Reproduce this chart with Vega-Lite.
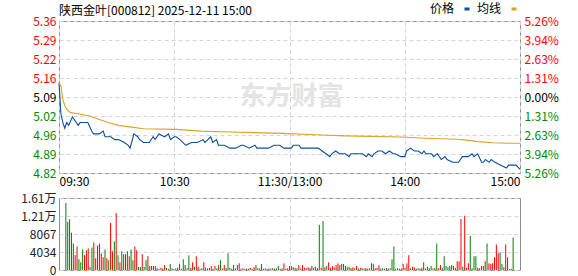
{
  "$schema": "https://vega.github.io/schema/vega-lite/v6.json",
  "background": "white",
  "padding": {"left": 20, "top": 2, "right": 0, "bottom": 0},
  "title": {"text": "陕西金叶[000812] 2025-12-11 15:00", "anchor": "start", "frame": "group", "fontSize": 12, "fontWeight": "normal", "font": "Noto Sans CJK SC", "color": "#000000", "offset": -15},
  "config": {
    "view": {"stroke": "#8c8c8c", "strokeWidth": 1},
    "font": "Noto Sans CJK SC",
    "axis": {"labelFont": "Noto Sans CJK SC", "labelFontSize": 12, "ticks": false, "domain": false, "gridColor": "#d4d4d4", "gridDash": [4, 3], "labelPadding": 3, "title": null},
    "legend": {"orient": "none", "legendX": 402, "legendY": -18, "direction": "horizontal", "title": null, "labelFontSize": 12, "labelFont": "Noto Sans CJK SC", "symbolType": "stroke", "symbolSize": 25, "symbolStrokeWidth": 3, "labelAlign": "right", "labelOffset": -19, "columnPadding": 0, "padding": 0}
  },
  "datasets": {
    "line": [
      {"m": 0, "s": "价格", "v": 5.14}, {"m": 1, "s": "价格", "v": 5.03}, {"m": 2, "s": "价格", "v": 5.0}, {"m": 3, "s": "价格", "v": 4.98}, {"m": 4, "s": "价格", "v": 5.0}, {"m": 5, "s": "价格", "v": 4.99}, {"m": 7, "s": "价格", "v": 5.02}, {"m": 9, "s": "价格", "v": 5.0}, {"m": 10, "s": "价格", "v": 4.99}, {"m": 11, "s": "价格", "v": 5.0}, {"m": 15, "s": "价格", "v": 5.0}, {"m": 17, "s": "价格", "v": 4.97}, {"m": 18, "s": "价格", "v": 4.96}, {"m": 21, "s": "价格", "v": 4.96}, {"m": 23, "s": "价格", "v": 4.97}, {"m": 24, "s": "价格", "v": 4.95}, {"m": 27, "s": "价格", "v": 4.95}, {"m": 29, "s": "价格", "v": 4.94}, {"m": 31, "s": "价格", "v": 4.94}, {"m": 34, "s": "价格", "v": 4.93}, {"m": 36, "s": "价格", "v": 4.92}, {"m": 37, "s": "价格", "v": 4.91}, {"m": 39, "s": "价格", "v": 4.96}, {"m": 41, "s": "价格", "v": 4.95}, {"m": 42, "s": "价格", "v": 4.94}, {"m": 44, "s": "价格", "v": 4.93}, {"m": 47, "s": "价格", "v": 4.93}, {"m": 49, "s": "价格", "v": 4.95}, {"m": 50, "s": "价格", "v": 4.94}, {"m": 52, "s": "价格", "v": 4.96}, {"m": 55, "s": "价格", "v": 4.95}, {"m": 57, "s": "价格", "v": 4.96}, {"m": 58, "s": "价格", "v": 4.94}, {"m": 60, "s": "价格", "v": 4.95}, {"m": 61, "s": "价格", "v": 4.95}, {"m": 63, "s": "价格", "v": 4.94}, {"m": 66, "s": "价格", "v": 4.92}, {"m": 69, "s": "价格", "v": 4.93}, {"m": 72, "s": "价格", "v": 4.93}, {"m": 75, "s": "价格", "v": 4.94}, {"m": 76, "s": "价格", "v": 4.93}, {"m": 79, "s": "价格", "v": 4.95}, {"m": 80, "s": "价格", "v": 4.93}, {"m": 82, "s": "价格", "v": 4.94}, {"m": 83, "s": "价格", "v": 4.92}, {"m": 86, "s": "价格", "v": 4.92}, {"m": 89, "s": "价格", "v": 4.91}, {"m": 92, "s": "价格", "v": 4.91}, {"m": 95, "s": "价格", "v": 4.92}, {"m": 96, "s": "价格", "v": 4.92}, {"m": 99, "s": "价格", "v": 4.91}, {"m": 102, "s": "价格", "v": 4.92}, {"m": 103, "s": "价格", "v": 4.91}, {"m": 109, "s": "价格", "v": 4.91}, {"m": 112, "s": "价格", "v": 4.92}, {"m": 115, "s": "价格", "v": 4.92}, {"m": 117, "s": "价格", "v": 4.91}, {"m": 121, "s": "价格", "v": 4.91}, {"m": 122, "s": "价格", "v": 4.92}, {"m": 125, "s": "价格", "v": 4.92}, {"m": 126, "s": "价格", "v": 4.91}, {"m": 135, "s": "价格", "v": 4.91}, {"m": 137, "s": "价格", "v": 4.9}, {"m": 139, "s": "价格", "v": 4.89}, {"m": 141, "s": "价格", "v": 4.88}, {"m": 142, "s": "价格", "v": 4.89}, {"m": 144, "s": "价格", "v": 4.9}, {"m": 146, "s": "价格", "v": 4.89}, {"m": 149, "s": "价格", "v": 4.89}, {"m": 151, "s": "价格", "v": 4.88}, {"m": 152, "s": "价格", "v": 4.89}, {"m": 158, "s": "价格", "v": 4.89}, {"m": 160, "s": "价格", "v": 4.88}, {"m": 161, "s": "价格", "v": 4.89}, {"m": 163, "s": "价格", "v": 4.88}, {"m": 164, "s": "价格", "v": 4.89}, {"m": 166, "s": "价格", "v": 4.9}, {"m": 168, "s": "价格", "v": 4.9}, {"m": 170, "s": "价格", "v": 4.89}, {"m": 172, "s": "价格", "v": 4.9}, {"m": 174, "s": "价格", "v": 4.89}, {"m": 175, "s": "价格", "v": 4.89}, {"m": 178, "s": "价格", "v": 4.88}, {"m": 180, "s": "价格", "v": 4.88}, {"m": 181, "s": "价格", "v": 4.9}, {"m": 183, "s": "价格", "v": 4.91}, {"m": 185, "s": "价格", "v": 4.9}, {"m": 187, "s": "价格", "v": 4.9}, {"m": 189, "s": "价格", "v": 4.89}, {"m": 190, "s": "价格", "v": 4.9}, {"m": 191, "s": "价格", "v": 4.89}, {"m": 194, "s": "价格", "v": 4.89}, {"m": 195, "s": "价格", "v": 4.88}, {"m": 197, "s": "价格", "v": 4.89}, {"m": 199, "s": "价格", "v": 4.87}, {"m": 201, "s": "价格", "v": 4.88}, {"m": 202, "s": "价格", "v": 4.87}, {"m": 205, "s": "价格", "v": 4.86}, {"m": 208, "s": "价格", "v": 4.86}, {"m": 210, "s": "价格", "v": 4.88}, {"m": 213, "s": "价格", "v": 4.88}, {"m": 215, "s": "价格", "v": 4.89}, {"m": 216, "s": "价格", "v": 4.88}, {"m": 218, "s": "价格", "v": 4.89}, {"m": 220, "s": "价格", "v": 4.86}, {"m": 221, "s": "价格", "v": 4.86}, {"m": 222, "s": "价格", "v": 4.87}, {"m": 224, "s": "价格", "v": 4.86}, {"m": 225, "s": "价格", "v": 4.87}, {"m": 227, "s": "价格", "v": 4.86}, {"m": 230, "s": "价格", "v": 4.85}, {"m": 233, "s": "价格", "v": 4.84}, {"m": 234, "s": "价格", "v": 4.85}, {"m": 238, "s": "价格", "v": 4.85}, {"m": 240, "s": "价格", "v": 4.835},
      {"m": 0, "s": "均线", "v": 5.14}, {"m": 1, "s": "均线", "v": 5.129}, {"m": 2, "s": "均线", "v": 5.082}, {"m": 3, "s": "均线", "v": 5.06}, {"m": 4, "s": "均线", "v": 5.047}, {"m": 6, "s": "均线", "v": 5.035}, {"m": 10, "s": "均线", "v": 5.031}, {"m": 16, "s": "均线", "v": 5.023}, {"m": 21, "s": "均线", "v": 5.011}, {"m": 26, "s": "均线", "v": 4.999}, {"m": 31, "s": "均线", "v": 4.99}, {"m": 38, "s": "均线", "v": 4.984}, {"m": 44, "s": "均线", "v": 4.978}, {"m": 61, "s": "均线", "v": 4.976}, {"m": 74, "s": "均线", "v": 4.97}, {"m": 89, "s": "均线", "v": 4.967}, {"m": 116, "s": "均线", "v": 4.962}, {"m": 137, "s": "均线", "v": 4.956}, {"m": 149, "s": "均线", "v": 4.953}, {"m": 178, "s": "均线", "v": 4.949}, {"m": 191, "s": "均线", "v": 4.945}, {"m": 207, "s": "均线", "v": 4.941}, {"m": 212, "s": "均线", "v": 4.938}, {"m": 218, "s": "均线", "v": 4.933}, {"m": 226, "s": "均线", "v": 4.929}, {"m": 234, "s": "均线", "v": 4.927}, {"m": 240, "s": "均线", "v": 4.927}
    ],
    "vol": [
      {"m": 0, "v": 15030, "d": "dn"}, {"m": 1, "v": 10780, "d": "dn"}, {"m": 2, "v": 11360, "d": "dn"}, {"m": 3, "v": 8360, "d": "up"}, {"m": 4, "v": 5940, "d": "dn"}, {"m": 5, "v": 3300, "d": "up"}, {"m": 6, "v": 5280, "d": "up"}, {"m": 7, "v": 2420, "d": "dn"}, {"m": 8, "v": 1760, "d": "dn"}, {"m": 9, "v": 4620, "d": "dn"}, {"m": 10, "v": 3300, "d": "up"}, {"m": 11, "v": 4400, "d": "up"}, {"m": 12, "v": 4840, "d": "up"}, {"m": 13, "v": 700, "d": "dn"}, {"m": 14, "v": 5060, "d": "dn"}, {"m": 15, "v": 6160, "d": "up"}, {"m": 16, "v": 2640, "d": "up"}, {"m": 17, "v": 5500, "d": "dn"}, {"m": 18, "v": 5940, "d": "up"}, {"m": 19, "v": 3740, "d": "up"}, {"m": 20, "v": 2860, "d": "up"}, {"m": 21, "v": 4620, "d": "dn"}, {"m": 22, "v": 2640, "d": "up"}, {"m": 23, "v": 2200, "d": "dn"}, {"m": 24, "v": 10560, "d": "up"}, {"m": 25, "v": 4180, "d": "up"}, {"m": 26, "v": 6380, "d": "dn"}, {"m": 27, "v": 12760, "d": "up"}, {"m": 28, "v": 3300, "d": "dn"}, {"m": 29, "v": 1760, "d": "up"}, {"m": 30, "v": 4180, "d": "dn"}, {"m": 31, "v": 3520, "d": "up"}, {"m": 32, "v": 3520, "d": "up"}, {"m": 33, "v": 4180, "d": "dn"}, {"m": 34, "v": 3080, "d": "up"}, {"m": 35, "v": 4620, "d": "dn"}, {"m": 36, "v": 2200, "d": "dn"}, {"m": 37, "v": 5280, "d": "up"}, {"m": 38, "v": 4400, "d": "up"}, {"m": 39, "v": 660, "d": "dn"}, {"m": 40, "v": 660, "d": "dn"}, {"m": 41, "v": 3520, "d": "up"}, {"m": 42, "v": 660, "d": "dn"}, {"m": 43, "v": 2200, "d": "dn"}, {"m": 44, "v": 3080, "d": "up"}, {"m": 45, "v": 880, "d": "up"}, {"m": 46, "v": 880, "d": "up"}, {"m": 47, "v": 880, "d": "dn"}, {"m": 48, "v": 880, "d": "dn"},
      {"m": 49, "v": 400, "d": "up"}, {"m": 50, "v": 300, "d": "dn"}, {"m": 51, "v": 500, "d": "up"}, {"m": 52, "v": 350, "d": "up"}, {"m": 53, "v": 1100, "d": "up"}, {"m": 54, "v": 450, "d": "dn"}, {"m": 55, "v": 300, "d": "up"}, {"m": 56, "v": 1320, "d": "dn"}, {"m": 57, "v": 400, "d": "dn"}, {"m": 58, "v": 250, "d": "up"}, {"m": 59, "v": 350, "d": "dn"}, {"m": 60, "v": 500, "d": "up"}, {"m": 61, "v": 1320, "d": "dn"}, {"m": 62, "v": 300, "d": "dn"}, {"m": 63, "v": 2420, "d": "dn"}, {"m": 64, "v": 1100, "d": "dn"}, {"m": 65, "v": 400, "d": "up"}, {"m": 66, "v": 3300, "d": "dn"}, {"m": 67, "v": 450, "d": "up"}, {"m": 68, "v": 1760, "d": "up"}, {"m": 69, "v": 733, "d": "dn"}, {"m": 70, "v": 3080, "d": "up"}, {"m": 71, "v": 733, "d": "up"}, {"m": 72, "v": 300, "d": "dn"}, {"m": 73, "v": 400, "d": "up"}, {"m": 74, "v": 1760, "d": "up"}, {"m": 75, "v": 586, "d": "dn"}, {"m": 76, "v": 350, "d": "up"}, {"m": 77, "v": 450, "d": "dn"}, {"m": 78, "v": 880, "d": "up"}, {"m": 79, "v": 300, "d": "up"}, {"m": 80, "v": 880, "d": "up"}, {"m": 81, "v": 400, "d": "dn"}, {"m": 82, "v": 1100, "d": "up"}, {"m": 83, "v": 2200, "d": "dn"}, {"m": 84, "v": 350, "d": "up"}, {"m": 85, "v": 1100, "d": "up"}, {"m": 86, "v": 450, "d": "dn"}, {"m": 87, "v": 3740, "d": "dn"}, {"m": 88, "v": 513, "d": "dn"}, {"m": 89, "v": 300, "d": "up"}, {"m": 90, "v": 1100, "d": "up"}, {"m": 91, "v": 350, "d": "dn"}, {"m": 92, "v": 1100, "d": "up"}, {"m": 93, "v": 1540, "d": "up"}, {"m": 94, "v": 300, "d": "dn"}, {"m": 95, "v": 400, "d": "up"}, {"m": 96, "v": 250, "d": "up"}, {"m": 97, "v": 350, "d": "dn"}, {"m": 98, "v": 300, "d": "up"}, {"m": 99, "v": 450, "d": "up"}, {"m": 100, "v": 300, "d": "dn"}, {"m": 101, "v": 600, "d": "up"}, {"m": 102, "v": 1100, "d": "dn"}, {"m": 103, "v": 400, "d": "up"}, {"m": 104, "v": 350, "d": "up"}, {"m": 105, "v": 1320, "d": "up"}, {"m": 106, "v": 300, "d": "dn"}, {"m": 107, "v": 400, "d": "up"}, {"m": 108, "v": 250, "d": "dn"}, {"m": 109, "v": 350, "d": "up"}, {"m": 110, "v": 300, "d": "up"}, {"m": 111, "v": 450, "d": "dn"}, {"m": 112, "v": 300, "d": "up"}, {"m": 113, "v": 400, "d": "dn"}, {"m": 114, "v": 880, "d": "dn"}, {"m": 115, "v": 300, "d": "up"}, {"m": 116, "v": 350, "d": "up"}, {"m": 117, "v": 1540, "d": "up"}, {"m": 118, "v": 300, "d": "dn"}, {"m": 119, "v": 400, "d": "up"}, {"m": 120, "v": 880, "d": "up"}, {"m": 121, "v": 880, "d": "up"}, {"m": 122, "v": 600, "d": "up"}, {"m": 123, "v": 500, "d": "up"}, {"m": 124, "v": 400, "d": "dn"}, {"m": 125, "v": 1100, "d": "up"}, {"m": 126, "v": 350, "d": "up"}, {"m": 127, "v": 1100, "d": "up"}, {"m": 128, "v": 500, "d": "up"}, {"m": 129, "v": 400, "d": "up"}, {"m": 130, "v": 600, "d": "up"}, {"m": 131, "v": 450, "d": "dn"}, {"m": 132, "v": 880, "d": "up"}, {"m": 133, "v": 500, "d": "up"}, {"m": 134, "v": 733, "d": "dn"}, {"m": 135, "v": 400, "d": "up"}, {"m": 136, "v": 10120, "d": "dn"}, {"m": 137, "v": 500, "d": "up"}, {"m": 138, "v": 11000, "d": "dn"}, {"m": 139, "v": 600, "d": "up"}, {"m": 140, "v": 880, "d": "dn"}, {"m": 141, "v": 1760, "d": "up"}, {"m": 142, "v": 500, "d": "up"}, {"m": 143, "v": 880, "d": "up"}, {"m": 144, "v": 600, "d": "up"}, {"m": 145, "v": 1100, "d": "up"}, {"m": 146, "v": 1540, "d": "up"}, {"m": 147, "v": 1100, "d": "up"}, {"m": 148, "v": 1320, "d": "dn"}, {"m": 149, "v": 1320, "d": "dn"}, {"m": 150, "v": 880, "d": "up"}, {"m": 151, "v": 600, "d": "up"}, {"m": 152, "v": 733, "d": "up"}, {"m": 153, "v": 450, "d": "dn"}, {"m": 154, "v": 600, "d": "up"}, {"m": 155, "v": 400, "d": "up"}, {"m": 156, "v": 880, "d": "up"}, {"m": 157, "v": 350, "d": "dn"}, {"m": 158, "v": 500, "d": "up"}, {"m": 159, "v": 400, "d": "up"}, {"m": 160, "v": 350, "d": "dn"}, {"m": 161, "v": 450, "d": "up"}, {"m": 162, "v": 300, "d": "up"}, {"m": 163, "v": 400, "d": "dn"}, {"m": 164, "v": 1540, "d": "up"}, {"m": 165, "v": 1320, "d": "dn"}, {"m": 166, "v": 400, "d": "up"}, {"m": 167, "v": 500, "d": "up"}, {"m": 168, "v": 1100, "d": "up"}, {"m": 169, "v": 350, "d": "dn"}, {"m": 170, "v": 400, "d": "dn"}, {"m": 171, "v": 300, "d": "up"}, {"m": 172, "v": 450, "d": "dn"}, {"m": 173, "v": 350, "d": "dn"}, {"m": 174, "v": 400, "d": "dn"}, {"m": 175, "v": 2420, "d": "dn"}, {"m": 176, "v": 5280, "d": "dn"}, {"m": 177, "v": 300, "d": "dn"}, {"m": 178, "v": 400, "d": "dn"}, {"m": 179, "v": 300, "d": "up"}, {"m": 180, "v": 350, "d": "dn"}, {"m": 181, "v": 1320, "d": "up"}, {"m": 182, "v": 500, "d": "up"}, {"m": 183, "v": 1540, "d": "up"}, {"m": 184, "v": 3300, "d": "up"}, {"m": 185, "v": 400, "d": "dn"}, {"m": 186, "v": 733, "d": "up"}, {"m": 187, "v": 586, "d": "up"}, {"m": 188, "v": 300, "d": "dn"}, {"m": 189, "v": 400, "d": "dn"}, {"m": 190, "v": 350, "d": "dn"}, {"m": 191, "v": 500, "d": "up"}, {"m": 192, "v": 1760, "d": "dn"}, {"m": 193, "v": 350, "d": "dn"}, {"m": 194, "v": 733, "d": "up"}, {"m": 195, "v": 400, "d": "dn"}, {"m": 196, "v": 880, "d": "dn"}, {"m": 197, "v": 350, "d": "up"}, {"m": 198, "v": 500, "d": "dn"}, {"m": 199, "v": 5940, "d": "dn"}, {"m": 200, "v": 400, "d": "up"}, {"m": 201, "v": 1100, "d": "up"}, {"m": 202, "v": 500, "d": "dn"}, {"m": 203, "v": 3080, "d": "dn"}, {"m": 204, "v": 880, "d": "dn"}, {"m": 205, "v": 600, "d": "dn"}, {"m": 206, "v": 880, "d": "dn"}, {"m": 207, "v": 1100, "d": "up"}, {"m": 208, "v": 880, "d": "up"}, {"m": 209, "v": 500, "d": "dn"}, {"m": 210, "v": 1980, "d": "up"}, {"m": 211, "v": 1980, "d": "up"}, {"m": 212, "v": 11440, "d": "up"}, {"m": 213, "v": 733, "d": "dn"}, {"m": 214, "v": 12170, "d": "up"}, {"m": 215, "v": 500, "d": "up"}, {"m": 216, "v": 1540, "d": "up"}, {"m": 217, "v": 7700, "d": "dn"}, {"m": 218, "v": 366, "d": "dn"}, {"m": 219, "v": 3080, "d": "dn"}, {"m": 220, "v": 3080, "d": "dn"}, {"m": 221, "v": 500, "d": "up"}, {"m": 222, "v": 366, "d": "dn"}, {"m": 223, "v": 880, "d": "up"}, {"m": 224, "v": 880, "d": "up"}, {"m": 225, "v": 1980, "d": "up"}, {"m": 226, "v": 5940, "d": "dn"}, {"m": 227, "v": 1540, "d": "up"}, {"m": 228, "v": 1320, "d": "up"}, {"m": 229, "v": 1540, "d": "up"}, {"m": 230, "v": 2860, "d": "up"}, {"m": 231, "v": 5720, "d": "up"}, {"m": 232, "v": 3740, "d": "up"}, {"m": 233, "v": 3960, "d": "dn"}, {"m": 234, "v": 1320, "d": "dn"}, {"m": 235, "v": 600, "d": "up"}, {"m": 236, "v": 5720, "d": "up"}, {"m": 237, "v": 2860, "d": "up"}, {"m": 238, "v": 220, "d": "up"}, {"m": 239, "v": 300, "d": "dn"}, {"m": 240, "v": 7260, "d": "dn"}
    ]
  },
  "vconcat": [
    {
      "width": 461,
      "height": 152,
      "layer": [
        {
          "data": {"values": [{"t": "东方财富"}]},
          "mark": {"type": "text", "fontSize": 26, "fontWeight": "bold", "color": "#e4e4e4", "font": "Noto Sans CJK SC"},
          "encoding": {
            "x": {"datum": 121, "type": "quantitative", "scale": {"domain": [0, 240], "nice": false, "zero": false}},
            "y": {"datum": 5.09, "type": "quantitative", "axis": null},
            "text": {"field": "t"}
          }
        },
        {
          "data": {"name": "line"},
          "mark": {"type": "line", "strokeWidth": 1.1, "interpolate": "linear"},
          "encoding": {
            "x": {"field": "m", "type": "quantitative", "scale": {"domain": [0, 240], "nice": false, "zero": false},
              "axis": {"values": [0, 60, 120, 180, 240], "labelFlush": true, "grid": true, "labelColor": "#000000",
                "labelExpr": "datum.value == 0 ? '09:30' : datum.value == 60 ? '10:30' : datum.value == 120 ? '11:30/13:00' : datum.value == 180 ? '14:00' : '15:00'"}},
            "y": {"field": "v", "type": "quantitative", "scale": {"domain": [4.8224, 5.3576], "nice": false, "zero": false},
              "axis": {"orient": "left", "values": [4.8224, 4.8893, 4.9562, 5.0231, 5.09, 5.1569, 5.2238, 5.2907, 5.3576], "format": ".2f", "grid": true,
                "labelColor": {"condition": [{"test": "datum.value > 5.1", "value": "#ff0000"}, {"test": "datum.value < 5.08", "value": "#008a00"}], "value": "#000000"}}},
            "color": {"field": "s", "type": "nominal", "scale": {"domain": ["价格", "均线"], "range": ["#0a4f9e", "#dca223"]}},
            "order": {"field": "m", "type": "quantitative"}
          }
        },
        {
          "data": {"name": "line"},
          "mark": {"type": "line", "opacity": 0},
          "encoding": {
            "x": {"field": "m", "type": "quantitative"},
            "y": {"field": "v", "type": "quantitative",
              "axis": {"orient": "right", "values": [4.8224, 4.8893, 4.9562, 5.0231, 5.09, 5.1569, 5.2238, 5.2907, 5.3576], "grid": false, "labelPadding": 4,
                "labelExpr": "format(abs(datum.value - 5.09) / 5.09 * 100, '.2f') + '%'",
                "labelColor": {"condition": [{"test": "datum.value > 5.1", "value": "#ff0000"}, {"test": "datum.value < 5.08", "value": "#008a00"}], "value": "#000000"}}},
            "detail": {"field": "s"}
          }
        }
      ],
      "resolve": {"axis": {"y": "independent"}}
    },
    {
      "width": 461,
      "height": 72,
      "data": {"name": "vol"},
      "mark": {"type": "bar", "size": 1},
      "encoding": {
        "x": {"field": "m", "type": "quantitative", "scale": {"domain": [-1, 241], "nice": false, "zero": false},
          "axis": {"values": [60.5, 120.5, 180.5], "labels": false, "grid": true}},
        "y": {"field": "v", "type": "quantitative", "scale": {"domain": [0, 16134], "nice": false},
          "axis": {"values": [0, 4033.5, 8067, 12100.5, 16134], "grid": true, "labelColor": "#222222",
            "labelExpr": "datum.value >= 10000 ? format(datum.value / 10000, '.2f') + '万' : format(datum.value, 'd')"}},
        "color": {"field": "d", "type": "nominal", "scale": {"domain": ["up", "dn"], "range": ["#ff0000", "#008000"]}, "legend": null}
      }
    }
  ],
  "spacing": 25,
  "bounds": "flush",
  "resolve": {"scale": {"color": "independent"}}
}
